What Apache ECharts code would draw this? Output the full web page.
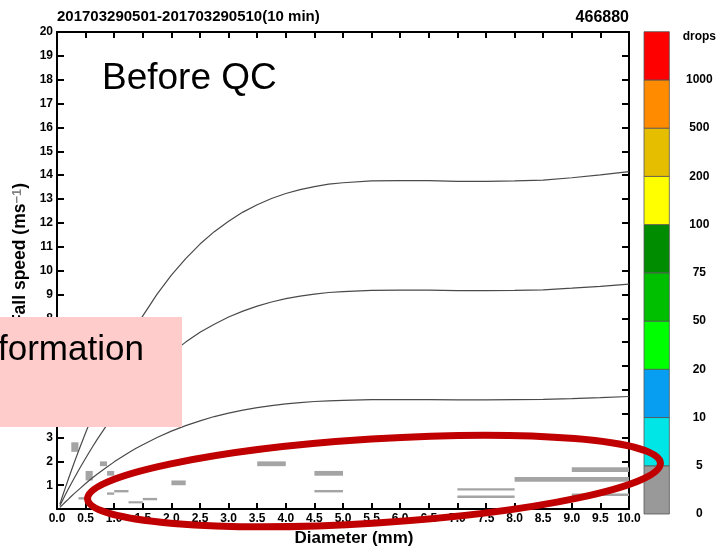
<!DOCTYPE html>
<html><head><meta charset="utf-8">
<script src="https://cdn.jsdelivr.net/npm/echarts@6/dist/echarts.min.js"></script>
<style>html,body{margin:0;padding:0;background:#fff;}#c{width:719px;height:552px;}</style>
</head><body><div id="c"></div>
<script>
// ---------- data ----------
const titleText = '201703290501-201703290510(10 min)';
const stationText = '466880';
const xAxisTitle = 'Diameter (mm)';
const annotationText = 'Before QC';
const boxText = 'formation';

// fall-speed reference curves
const curveD = [0.05,0.1,0.15,0.2,0.25,0.3,0.4,0.5,0.6,0.7,0.85,1,1.125,1.25,1.375,1.5,1.75,2,2.25,2.5,2.75,3,3.25,3.5,3.75,4,4.25,4.5,4.75,5,5.5,6,6.5,7,7.5,8,8.5,9,9.5,10];
const vUpper = [0.21,0.57,0.92,1.27,1.61,1.94,2.58,3.20,3.80,4.36,5.17,5.93,6.52,7.08,7.61,8.10,9.01,9.81,10.50,11.11,11.63,12.07,12.45,12.76,13.02,13.23,13.39,13.52,13.62,13.68,13.76,13.77,13.77,13.74,13.74,13.76,13.79,13.89,14.01,14.15];
const vMiddle = [0.14,0.38,0.62,0.85,1.07,1.29,1.72,2.13,2.53,2.91,3.45,3.95,4.35,4.72,5.07,5.40,6.01,6.54,7.00,7.41,7.75,8.05,8.30,8.51,8.68,8.82,8.93,9.01,9.08,9.12,9.17,9.18,9.18,9.16,9.16,9.17,9.19,9.26,9.34,9.43];
const vLower = [0.07,0.19,0.31,0.42,0.54,0.65,0.86,1.07,1.27,1.46,1.72,1.98,2.17,2.36,2.54,2.70,3.00,3.27,3.50,3.70,3.88,4.02,4.15,4.25,4.34,4.41,4.46,4.51,4.54,4.56,4.59,4.59,4.59,4.58,4.58,4.59,4.60,4.63,4.67,4.72];

// drop-count cells (diameter range x velocity range), all in 0-5 class
const cellDMin = [0.25,0.375,0.5,0.75,0.875,0.875,1.0,1.25,1.5,2.0,3.5,4.5,4.5,7.0,7.0,8.0,9.0,9.0];
const cellDMax = [0.375,0.5,0.625,0.875,1.0,1.0,1.25,1.5,1.75,2.25,4.0,5.0,5.0,8.0,8.0,10.0,10.0,10.0];
const cellVMin = [2.4,0.4,1.2,1.8,1.4,0.6,0.7,0.24,0.37,1.0,1.8,1.4,0.7,0.78,0.47,1.15,1.55,0.55];
const cellVMax = [2.8,0.5,1.6,2.0,1.6,0.7,0.8,0.33,0.47,1.2,2.0,1.6,0.8,0.87,0.57,1.35,1.75,0.65];

// colour bar
const cbLabels = ['0','5','10','20','50','75','100','200','500','1000','drops'];
const cbColors = ['#999999','#00E6E6','#079EF2','#00FF00','#00BE00','#008C00','#FFFF00','#E6BE00','#FF8C00','#FF0000'];

// ---------- chart ----------
const FONT = 'Liberation Sans, Arial, sans-serif';
const chart = echarts.init(document.getElementById('c'), null, {renderer:'canvas'});

const cellData = cellDMin.map((d,i)=>[d, cellDMax[i], cellVMin[i], cellVMax[i]]);
const cbData = cbColors.map((c,i)=>[0,1,i,i+1]);

const axLine = {show:true, onZero:false, lineStyle:{color:'#000', width:2}};
const tick = (len)=>({show:true, inside:true, length:len, lineStyle:{color:'#000', width:2}});
const lbl = {color:'#000', fontWeight:'bold', fontSize:12, fontFamily:FONT};

chart.setOption({
  animation:false,
  backgroundColor:'#fff',
  grid:[
    {left:57, right:90, top:32, bottom:39, containLabel:false},
    {left:644, width:26, top:31.7, bottom:38, containLabel:false}
  ],
  xAxis:[
    {gridIndex:0, type:'value', min:0, max:10, interval:0.5, position:'bottom',
     axisLine:axLine, axisTick:tick(6), splitLine:{show:false},
     axisLabel:Object.assign({margin:4, formatter:v=>v.toFixed(1)}, lbl),
     name:xAxisTitle, nameLocation:'middle', nameGap:20,
     nameTextStyle:{color:'#000', fontWeight:'bold', fontSize:17, fontFamily:FONT, padding:[0,0,0,22]}},
    {gridIndex:0, type:'value', min:0, max:10, interval:0.5, position:'top',
     axisLine:axLine, axisTick:tick(6), splitLine:{show:false}, axisLabel:{show:false}},
    {gridIndex:1, type:'value', min:0, max:1, show:false}
  ],
  yAxis:[
    {gridIndex:0, type:'value', min:0, max:20, interval:1, position:'left',
     axisLine:axLine, axisTick:tick(7), splitLine:{show:false},
     axisLabel:Object.assign({margin:4, showMinLabel:false}, lbl)},
    {gridIndex:0, type:'value', min:0, max:20, interval:1, position:'right',
     axisLine:axLine, axisTick:tick(7), splitLine:{show:false}, axisLabel:{show:false}},
    {gridIndex:1, type:'value', min:0, max:10, interval:1, position:'right',
     axisLine:{show:false}, axisTick:{show:false}, splitLine:{show:false},
     axisLabel:Object.assign({margin:30, align:'center',
       formatter:v=>{const s=cbLabels[Math.round(v)]; return s==='drops' ? '{d|'+s+'}' : s;},
       rich:{d:{color:'#000', fontWeight:'bold', fontSize:12, fontFamily:FONT, padding:[10,0,0,0]}}}, lbl)}
  ],
  series:[
    {type:'custom', xAxisIndex:0, yAxisIndex:0, data:cellData, z:3,
     encode:{x:[0,1], y:[2,3]},
     renderItem:(params, api)=>{
       const p0 = api.coord([api.value(0), api.value(3)]);
       const p1 = api.coord([api.value(1), api.value(2)]);
       return {type:'rect', shape:{x:p0[0], y:p0[1], width:p1[0]-p0[0], height:p1[1]-p0[1]},
               style:{fill:'#a4a4a4'}};
     }},
    ...[vUpper, vMiddle, vLower].map(arr=>({
      type:'line', xAxisIndex:0, yAxisIndex:0, z:4,
      data:curveD.map((d,i)=>[d, arr[i]]),
      showSymbol:false, smooth:false,
      lineStyle:{color:'#4a4a4a', width:1.2}
    })),
    {type:'custom', xAxisIndex:2, yAxisIndex:2, data:cbData, z:3,
     encode:{x:[0,1], y:[2,3]},
     renderItem:(params, api)=>{
       const p0 = api.coord([api.value(0), api.value(3)]);
       const p1 = api.coord([api.value(1), api.value(2)]);
       return {type:'rect', shape:{x:p0[0], y:p0[1], width:p1[0]-p0[0], height:p1[1]-p0[1]},
               style:{fill:cbColors[params.dataIndex], stroke:'#555', lineWidth:0.8}};
     }}
  ],
  graphic:[
    {type:'text', x:57, y:17, z:50, style:{text:titleText, font:'bold 15px '+FONT, fill:'#000', align:'left', verticalAlign:'middle'}},
    {type:'text', x:629, y:18, z:50, style:{text:stationText, font:'bold 16px '+FONT, fill:'#000', align:'right', verticalAlign:'middle'}},
    {type:'text', x:20, y:254, rotation:Math.PI/2, z:50,
     style:{text:'{a|Fall speed (ms}{b|−1}{a|)}', align:'center', verticalAlign:'middle',
       rich:{a:{font:'bold 17.5px '+FONT, fill:'#000'}, b:{font:'bold 13px '+FONT, fill:'#808080', verticalAlign:'top'}}}},
    {type:'text', x:102, y:79, z:50, style:{text:annotationText, font:'37px '+FONT, fill:'#000', align:'left', verticalAlign:'middle'}},
    {type:'rect', x:0, y:317, z:100, shape:{x:0, y:0, width:182, height:110}, style:{fill:'#FFCCCC'}},
    {type:'text', x:-2, y:350, z:101, style:{text:boxText, font:'35px '+FONT, fill:'#000', align:'left', verticalAlign:'middle'}},
    {type:'ellipse', x:374, y:481, rotation:0.063, z:102, shape:{cx:0, cy:0, rx:287, ry:42},
     style:{fill:'none', stroke:'#C00000', lineWidth:7}}
  ]
});
</script>
</body></html>
